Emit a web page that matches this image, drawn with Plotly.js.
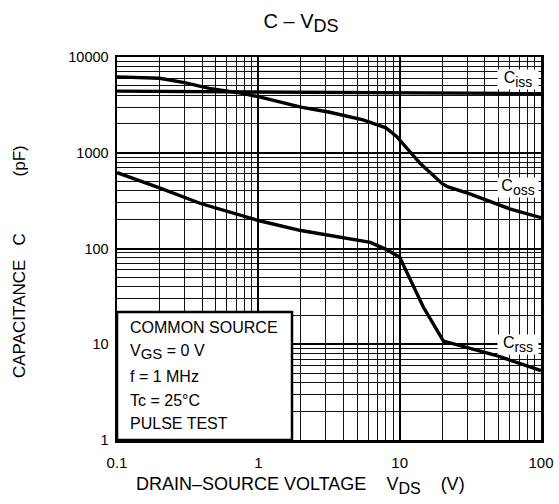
<!DOCTYPE html>
<html>
<head>
<meta charset="utf-8">
<script src="https://cdn.plot.ly/plotly-3.0.1.min.js"></script>
<style>html,body{margin:0;padding:0;background:#fff;}#chart{width:559px;height:504px;}</style>
</head>
<body>
<div id="chart"></div>
<script>
// ---- data ----
const vdsCiss = [0.1, 0.3, 1, 3, 10, 30, 100];
const ciss    = [4400, 4350, 4300, 4250, 4200, 4200, 4150];

const vdsCoss = [0.1, 0.2, 0.3, 0.45, 0.75, 1, 2, 3.2, 5.5, 8, 9.5, 14, 20, 22, 31, 60, 100];
const coss    = [6200, 6000, 5400, 4700, 4200, 3850, 3000, 2650, 2200, 1820, 1480, 770, 475, 440, 375, 260, 210];

const vdsCrss = [0.1, 0.2, 0.39, 1, 2, 3.2, 4.5, 6.2, 8, 10, 14.7, 18.3, 20.4, 48.6, 100];
const crss    = [620, 430, 295, 196, 154, 137, 126, 116, 98, 81, 24.5, 13.8, 10.8, 7.6, 5.3];

const xTickVals = [0.1, 1, 10, 100];
const xTickText = ['0.1', '1', '10', '100'];
const yTickVals = [1, 10, 100, 1000, 10000];
const yTickText = ['1', '10', '100', '1000', '10000'];

function sub(t, size) { return '<sub><span style="font-size:' + size + 'px">' + t + '</span></sub>'; }
const NB = n => '\u00a0'.repeat(n);

const conditions = ['COMMON SOURCE', 'V' + sub('GS', 15) + ' = 0 V', 'f = 1 MHz', 'Tc = 25°C', 'PULSE TEST'];
const curveLabels = ['C' + sub('iss', 14), 'C' + sub('oss', 14), 'C' + sub('rss', 14)];
const titleText = 'C \u2013 V' + sub('DS', 18);
const xTitleText = 'DRAIN\u2013SOURCE VOLTAGE' + NB(4) + 'V' + sub('DS', 16) + NB(4) + '(V)';
const yTitleText = 'CAPACITANCE' + NB(3) + 'C' + NB(12) + '(pF)';

// minor grid positions (2..9 in every decade)
function minorVals(decades) {
  const out = [];
  decades.forEach(d => { for (let k = 2; k <= 9; k++) out.push(k * d); });
  return out;
}

const FONT = 'Liberation Sans, Arial, sans-serif';
const lineStyle = {color: '#000', width: 3.4};

const traces = [
  {x: vdsCiss, y: ciss, mode: 'lines', line: lineStyle, hoverinfo: 'skip'},
  {x: vdsCoss, y: coss, mode: 'lines', line: lineStyle, hoverinfo: 'skip'},
  {x: vdsCrss, y: crss, mode: 'lines', line: lineStyle, hoverinfo: 'skip'}
];

const H = 383; // plot height px
function py(p) { return (440 - p) / H; }
function px(p) { return (p - 117) / 424; }

const annotations = [];
const labelY = [79.5, 187, 344];
curveLabels.forEach((t, i) => {
  annotations.push({
    text: t, xref: 'paper', yref: 'paper', x: 1, y: py(labelY[i]),
    xanchor: 'right', yanchor: 'middle', showarrow: false,
    width: 40, height: 19, align: 'center', valign: 'middle',
    bgcolor: '#fff', borderpad: 0, xshift: -2,
    font: {family: FONT, size: 16, color: '#000'}
  });
});
const condY = [327, 352, 376, 400, 423];
conditions.forEach((t, i) => {
  annotations.push({
    text: t, xref: 'paper', yref: 'paper', x: px(128), y: py(condY[i]),
    xanchor: 'left', yanchor: 'middle', showarrow: false,
    font: {family: FONT, size: 16, color: '#000'}
  });
});
annotations.push({
  text: xTitleText,
  xref: 'paper', yref: 'paper', x: px(300), y: py(485),
  xanchor: 'center', yanchor: 'middle', showarrow: false,
  font: {family: FONT, size: 18, color: '#000'}
});
annotations.push({
  text: yTitleText,
  xref: 'paper', yref: 'paper', x: px(19), y: py(262), textangle: -90,
  xanchor: 'center', yanchor: 'middle', showarrow: false,
  font: {family: FONT, size: 17, color: '#000'}
});

const layout = {
  width: 559, height: 504,
  margin: {l: 117, r: 18, t: 57, b: 64, pad: 0},
  paper_bgcolor: '#fff', plot_bgcolor: '#fff',
  showlegend: false,
  font: {family: FONT, size: 15, color: '#000'},
  title: {text: titleText, xref: 'container', x: 301/559, xanchor: 'center',
          yref: 'container', y: 1 - 21/504, yanchor: 'middle',
          font: {family: FONT, size: 20, color: '#000'}},
  xaxis: {
    type: 'log', range: [-1, 2], tickmode: 'array', tickvals: xTickVals, ticktext: xTickText,
    showgrid: true, gridcolor: '#000', gridwidth: 2,
    minor: {tickmode: 'array', tickvals: minorVals([0.1, 1, 10]), showgrid: true, gridcolor: '#111', gridwidth: 1, ticks: ''},
    showline: true, mirror: true, linecolor: '#000', linewidth: 2.5,
    ticks: '', zeroline: false, ticklabelstandoff: 7,
    tickfont: {family: FONT, size: 15, color: '#000'}
  },
  yaxis: {
    type: 'log', range: [0, 4], tickmode: 'array', tickvals: yTickVals, ticktext: yTickText,
    showgrid: true, gridcolor: '#000', gridwidth: 2,
    minor: {tickmode: 'array', tickvals: minorVals([1, 10, 100, 1000]), showgrid: true, gridcolor: '#111', gridwidth: 1, ticks: ''},
    showline: true, mirror: true, linecolor: '#000', linewidth: 2.5,
    ticks: '', zeroline: false, ticklabelstandoff: 3,
    tickfont: {family: FONT, size: 14.5, color: '#000'}
  },
  shapes: [{
    type: 'rect', xref: 'paper', yref: 'paper', x0: 0, x1: px(292), y0: 0, y1: py(312),
    line: {color: '#000', width: 2.5}, fillcolor: '#fff', layer: 'above'
  }],
  annotations: annotations
};

Plotly.newPlot('chart', traces, layout, {displayModeBar: false, staticPlot: true});
</script>
</body>
</html>
